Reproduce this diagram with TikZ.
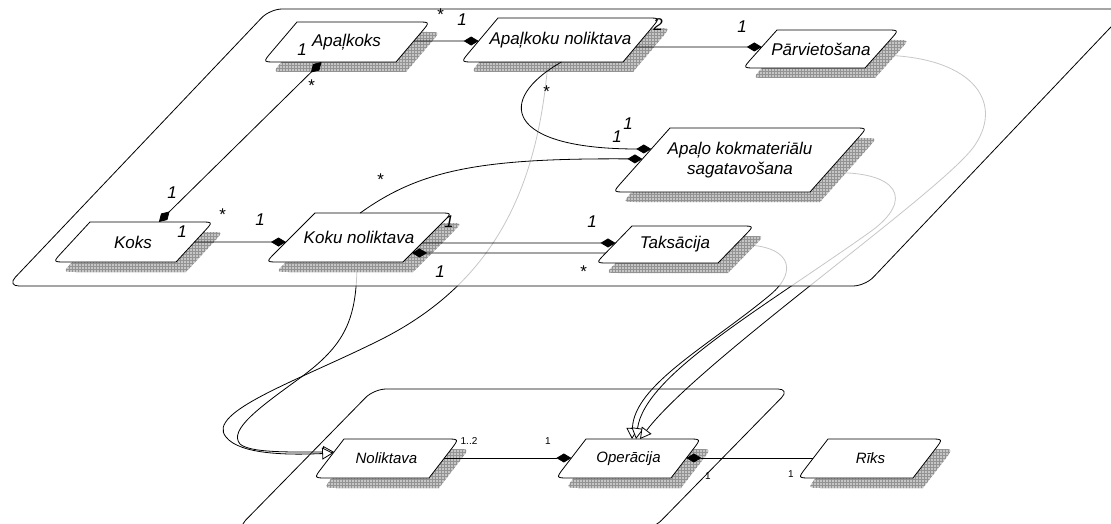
\documentclass[tikz,border=0pt]{standalone}
\usepackage{fontspec}
\setmainfont{Liberation Sans}
\usetikzlibrary{calc,arrows.meta,patterns}
\pgfdeclarelayer{wires}
\pgfdeclarelayer{pkg}
\pgfsetlayers{wires,pkg,main}

% corner points of a slanted class box: name, top-left x, top y, width, slant, height
\newcommand\clsdef[6]{%
  \coordinate (#1-tl) at (#2,#3);
  \coordinate (#1-tr) at (#2+#4,#3);
  \coordinate (#1-br) at (#2+#4-#5,#3+#6);
  \coordinate (#1-bl) at (#2-#5,#3+#6);
}
% outline of a class box, shifted by (#2,#3); the two acute corners are rounded
\newcommand\clspath[3]{%
  ($(#1-tl)+(#2,#3)$) -- ($(#1-tr)+(#2-13,#3)$)
  .. controls ($(#1-tr)+(#2,#3)$) .. ($(#1-tr)!13pt!(#1-br)+(#2,#3)$)
  -- ($(#1-br)+(#2,#3)$) -- ($(#1-bl)+(#2+13,#3)$)
  .. controls ($(#1-bl)+(#2,#3)$) .. ($(#1-bl)!13pt!(#1-tl)+(#2,#3)$)
  -- cycle}
% shadow, box and named label of a class
\newcommand\clsdraw[3]{%
  \path[clsshadow] \clspath{#1}{10}{10};
  \draw[clsbox] \clspath{#1}{0}{0};
  \node[#2] (#1) at ($(#1-tl)!.5!(#1-br)$) {#3};
}

\tikzset{
  clsbox/.style={draw=black, line width=0.8pt, fill=white},
  clsshadow/.style={preaction={fill=gray!45}, pattern=grid, pattern color=gray!85},
  clsname/.style={font=\fontsize{17}{20}\selectfont\itshape, align=center, inner sep=0pt},
  clsnamesm/.style={font=\fontsize{15}{18}\selectfont\itshape, inner sep=0pt},
  mult/.style={font=\fontsize{17}{20}\selectfont\itshape, inner sep=0pt},
  multsm/.style={font=\fontsize{10}{12}\selectfont, inner sep=0pt},
  assoc/.style={line width=0.8pt},
  comp/.style={assoc, -{Diamond[length=15pt,width=9pt]}},
  gen/.style={line width=0.8pt, -{Triangle[length=11pt,width=12pt,fill=white]}},
  pkgbox/.style={line width=0.8pt, rounded corners=12pt},
}

\begin{document}
\begin{tikzpicture}[x=1pt, y=-1pt]
\useasboundingbox (0,0) rectangle (1111,524);

% class geometry
\clsdef{ak}{297}{22}{133}{34}{40}
\clsdef{kk}{90}{222}{123}{37}{40}
\clsdef{kn}{315}{213}{137}{49}{49}
\clsdef{akn}{498}{18}{162}{37}{44}
\clsdef{pv}{777}{30}{122}{34}{38}
\clsdef{apk}{670}{128}{197}{57}{64}
\clsdef{tk}{632}{226}{122}{36}{37}
\clsdef{nl}{344}{439}{115}{30}{39}
\clsdef{op}{586}{439}{115}{30}{39}
\clsdef{rk}{828}{439}{115}{30}{39}

% generalisations, behind the packages
\begin{pgfonlayer}{wires}
  \draw[gen] ($(kn-bl)!0.664!(kn-br)$) .. controls (357,320) and (345,345) .. (300,378)
    .. controls (260,407) and (228,430) .. (240,444)
    .. controls (250,453) and (290,452) .. ($(nl-tl)!0.333!(nl-bl)$);
  \draw[gen] ($(akn-bl)!0.537!(akn-br)$) .. controls (538,180) and (500,280) .. (380,340)
    .. controls (300,380) and (205,412) .. (226,437)
    .. controls (240,455) and (290,455) .. ($(nl-tl)!0.36!(nl-bl)$);
  \draw[gen] ($(tk-tr)!0.51!(tk-br)$) .. controls (790,243) and (800,270) .. (770,295)
    .. controls (710,345) and (634,385) .. ($(op-tl)!0.4!(op-tr)$);
  \draw[gen] ($(apk-tr)!0.70!(apk-br)$) .. controls (900,170) and (915,200) .. (870,232)
    .. controls (760,310) and (645,375) .. ($(op-tl)!0.435!(op-tr)$);
  \draw[gen] ($(pv-tr)!0.66!(pv-br)$) .. controls (970,55) and (1005,100) .. (975,145)
    .. controls (945,190) and (700,360) .. ($(op-tl)!0.47!(op-tr)$);
\end{pgfonlayer}

% packages
\begin{pgfonlayer}{pkg}
  \draw[pkgbox, fill=white, fill opacity=0.78] (270,9) -- (1128,9) -- (865,286) -- (7,286) -- cycle;
  \draw[pkgbox] (374,389) -- (790,389) -- (653,529) -- (237,529) -- cycle;
\end{pgfonlayer}

% classes
\clsdraw{ak}{clsname}{Apaļkoks}
\clsdraw{kk}{clsname}{Koks}
\clsdraw{kn}{clsname}{Koku noliktava}
\clsdraw{akn}{clsname}{Apaļkoku noliktava}
\clsdraw{pv}{clsname}{Pārvietošana}
\clsdraw{apk}{clsname}{Apaļo kokmateriālu\\sagatavošana}
\clsdraw{tk}{clsname}{Taksācija}
\clsdraw{nl}{clsnamesm}{Noliktava}
\clsdraw{op}{clsnamesm}{Operācija}
\clsdraw{rk}{clsnamesm}{Rīks}

% associations
\draw[assoc, {Diamond[length=15pt,width=9pt]}-{Diamond[length=15pt,width=9pt]}]
  ($(ak-bl)!0.44!(ak-br)$) -- ($(kk-tl)!0.56!(kk-tr)$);
\draw[comp] ($(kk-tr)!0.5!(kk-br)$) -- ($(kn-tl)!0.592!(kn-bl)$);
\draw[comp] ($(ak-tr)!0.475!(ak-br)$) -- ($(akn-tl)!0.523!(akn-bl)$);
\draw[comp] ($(akn-tr)!0.659!(akn-br)$) -- ($(pv-tl)!0.447!(pv-bl)$);
\draw[comp] ($(akn-bl)!0.62!(akn-br)$) .. controls (495,100) and (505,149) .. ($(apk-tl)!0.328!(apk-bl)$);
\draw[comp] ($(kn-tl)!0.33!(kn-tr)$) .. controls (420,170) and (480,158) .. ($(apk-tl)!0.484!(apk-bl)$);
\draw[comp] ($(kn-tr)!0.612!(kn-br)$) -- ($(tk-tl)!0.459!(tk-bl)$);
\draw[comp] ($(tk-tl)!0.73!(tk-bl)$) -- ($(kn-tr)!0.816!(kn-br)$);
\draw[comp] ($(nl-tr)!0.487!(nl-br)$) -- ($(op-tl)!0.487!(op-bl)$);
\draw[comp] ($(rk-tl)!0.487!(rk-bl)$) -- ($(op-tr)!0.487!(op-br)$);

% multiplicities
\node[mult] (m1) at (302,50) {1};
\node[mult] (m2) at (311,86) {*};
\node[mult] (m3) at (172,193) {1};
\node[mult] (m4) at (182,232) {1};
\node[mult] (m5) at (222,215) {*};
\node[mult] (m6) at (260,220) {1};
\node[mult] (m7) at (380,180) {*};
\node[mult] (m8) at (449,222) {1};
\node[mult] (m9) at (440,272) {1};
\node[mult] (m10) at (592,222) {1};
\node[mult] (m11) at (583,272) {*};
\node[mult] (m12) at (440,15) {*};
\node[mult] (m13) at (462,20) {1};
\node[mult] (m14) at (658,25) {2};
\node[mult] (m15) at (742,27) {1};
\node[mult] (m16) at (546,92) {*};
\node[mult] (m17) at (617,137) {1};
\node[mult] (m18) at (628,124) {1};
\node[multsm] (m19) at (469,441) {1..2};
\node[multsm] (m20) at (548,441) {1};
\node[multsm] (m21) at (708,476) {1};
\node[multsm] (m22) at (791,474) {1};
\end{tikzpicture}
\end{document}
